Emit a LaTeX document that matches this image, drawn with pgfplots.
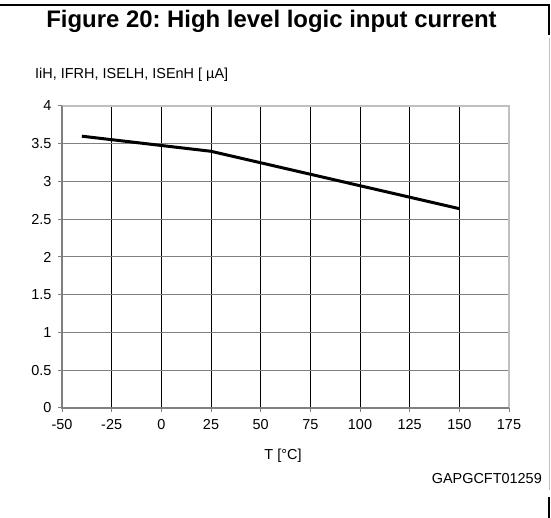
\documentclass[border=0pt]{standalone}
\usepackage{fontspec}
\setmainfont{Liberation Sans}
\usepackage{pgfplots}
\pgfplotsset{compat=1.18}
\definecolor{axgray}{HTML}{808080}
\definecolor{lgray}{HTML}{C0C0C0}
\frenchspacing
\begin{document}
\begin{tikzpicture}[x=1bp,y=1bp]
\useasboundingbox (0,0) rectangle (551,518);
\draw[line width=2bp] (0,512.5) -- (549,512.5) -- (549,483);
\draw[lgray, line width=1bp] (549,480) -- (549,28);
\draw[line width=2bp] (549,21) -- (549,0);
\node[font=\bfseries\fontsize{24}{26}\selectfont, anchor=base, inner sep=0] at (271.5,490) {Figure 20: High level logic input current};
\node[anchor=west, inner sep=0, font=\fontsize{14.5}{16}\selectfont] at (35,443) {IiH, IFRH, ISELH, ISEnH [ µA]};
\node[inner sep=0, font=\fontsize{14.5}{16}\selectfont] at (283,62) {T [°C]};
\node[anchor=east, inner sep=0, font=\fontsize{14.5}{16}\selectfont] at (542,39) {GAPGCFT01259};
\begin{axis}[
  at={(62bp,110bp)}, anchor=south west,
  scale only axis, width=447bp, height=302bp,
  xmin=-50, xmax=175, ymin=0, ymax=4,
  xtick={-50,-25,0,25,50,75,100,125,150,175},
  ytick={0,0.5,1,1.5,2,2.5,3,3.5,4},
  /pgf/number format/assume math mode=true,
  tick label style={font=\fontsize{14.5}{16}\selectfont},
  xticklabel style={yshift=-4bp},
  yticklabel style={xshift=-3bp},
  tick align=outside, tick pos=left,
  major tick length=4bp,
  every tick/.style={axgray, line width=1bp},
  axis line style={draw=none},
  xmajorgrids, ymajorgrids,
  x grid style={black, line width=0.8bp},
  y grid style={axgray, line width=1bp},
  clip=false,
]
\addplot[black, line width=3bp] coordinates {(-40,3.6) (25,3.4) (150,2.64)};
\draw[lgray, line width=1.5bp] (rel axis cs:0,1) -- (rel axis cs:1,1) -- (rel axis cs:1,0);
\draw[axgray, line width=1.5bp] (rel axis cs:0,1) -- (rel axis cs:0,0) -- (rel axis cs:1,0);
\end{axis}
\end{tikzpicture}
\end{document}
